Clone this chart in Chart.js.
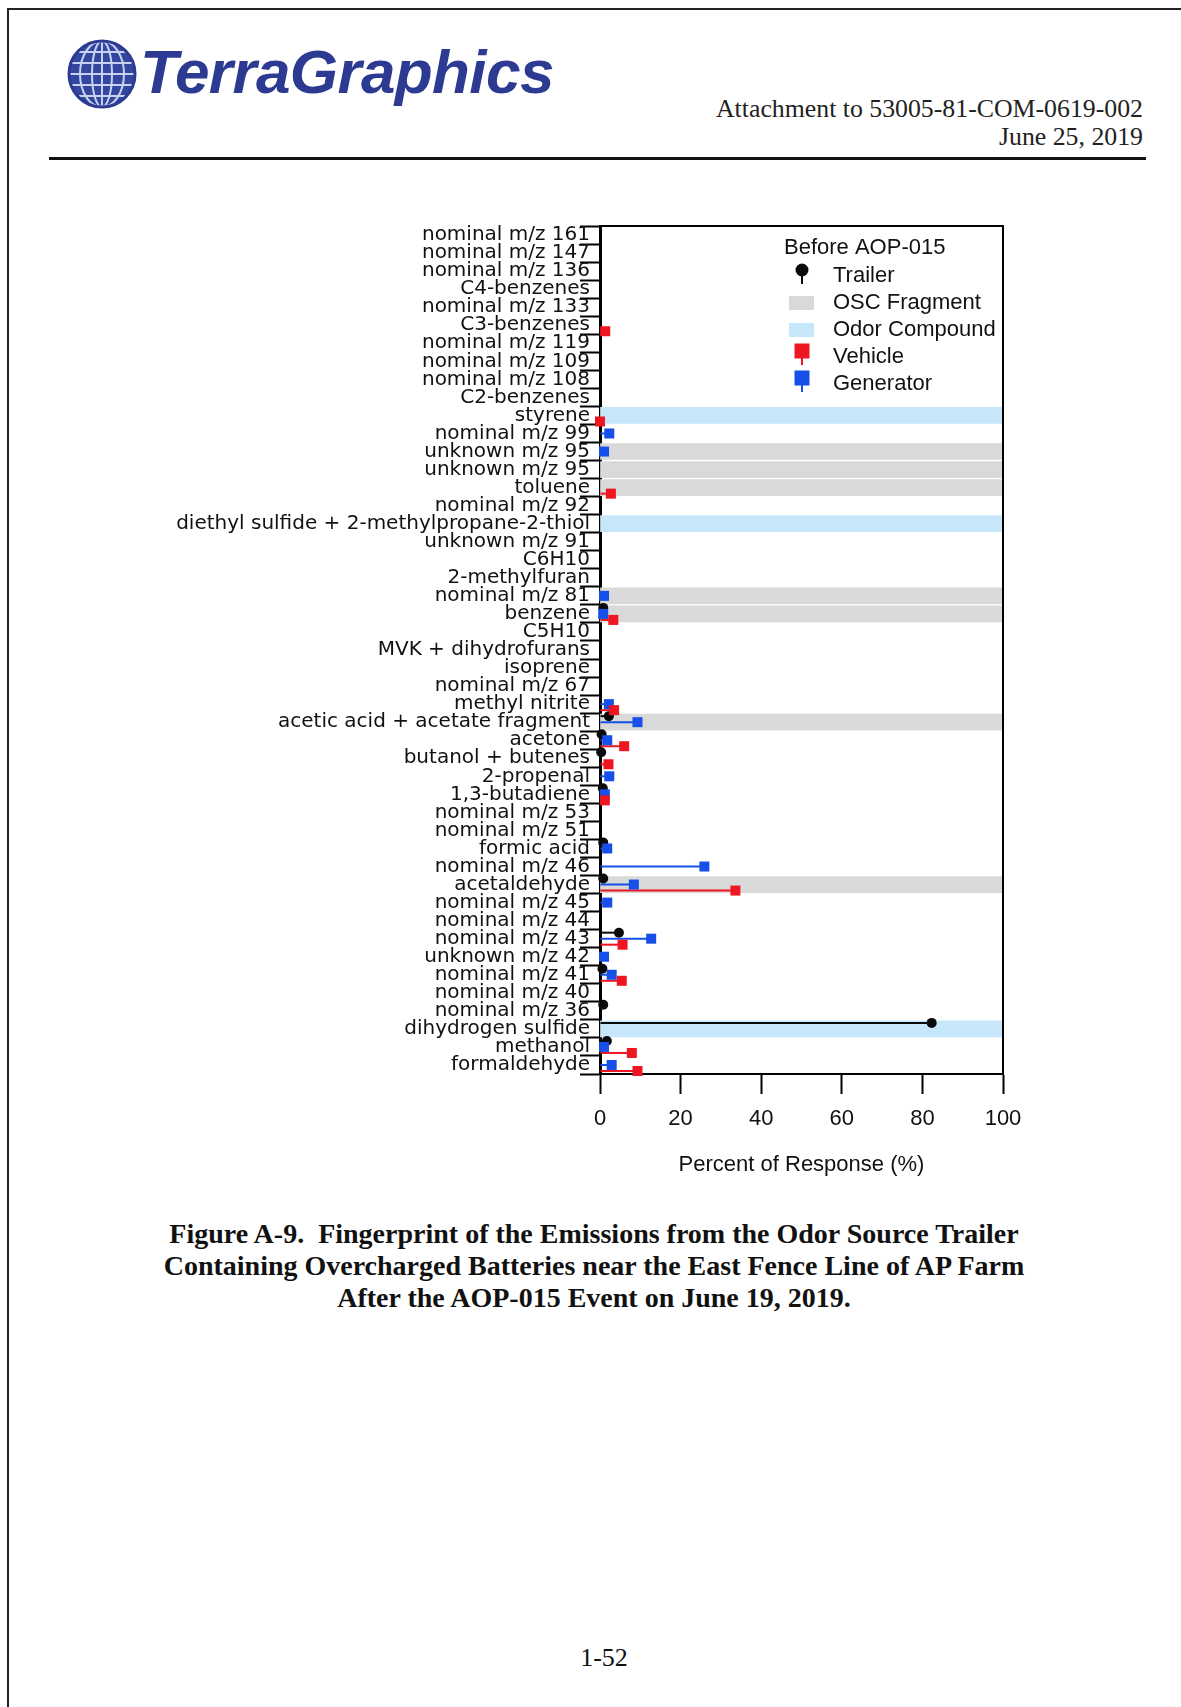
<!DOCTYPE html>
<html>
<head>
<meta charset="utf-8">
<script src="https://cdn.jsdelivr.net/npm/chart.js@4/dist/chart.umd.min.js"></script>
<style>
  html, body { margin: 0; padding: 0; background: #fff; }
  body { width: 1181px; height: 1707px; position: relative; overflow: hidden; }
  .frame { position: absolute; left: 7px; top: 8px; width: 1300px; height: 1800px;
           border-left: 2px solid #222; border-top: 2px solid #222; }
  .logo { position: absolute; left: 66px; top: 38px; }
  .brand { position: absolute; left: 140px; top: 32px; font-family: "Liberation Sans", Arial, sans-serif;
           font-weight: bold; font-style: italic; font-size: 62px; letter-spacing: -0.6px; color: #2c3a92; line-height: 80px; }
  .meta { position: absolute; right: 38px; top: 95px; text-align: right; font-family: "Liberation Serif", "Times New Roman", serif;
          font-size: 25.8px; line-height: 28px; color: #222; }
  .rule { position: absolute; left: 49px; top: 157px; width: 1097px; height: 3px; background: #111; }
  #chart { position: absolute; left: 150px; top: 200px; }
  .caption { position: absolute; left: 0; width: 1188px; top: 1218px; text-align: center;
             font-family: "Liberation Serif", "Times New Roman", serif; font-weight: bold; font-size: 28px; line-height: 32px; color: #111; }
  .pageno { position: absolute; left: 0; width: 1208px; top: 1642px; text-align: center;
            font-family: "Liberation Serif", "Times New Roman", serif; font-size: 26px; line-height: 32px; color: #111; }
</style>
</head>
<body>
<div class="frame"></div>
<svg class="logo" width="72" height="72" viewBox="0 0 72 72">
  <defs><clipPath id="g"><circle cx="36" cy="36" r="33"/></clipPath></defs>
  <circle cx="36" cy="36" r="33" fill="#3447a0"/>
  <g clip-path="url(#g)" fill="none" stroke="#c9d1f0" stroke-width="2">
    <ellipse cx="36" cy="36" rx="10" ry="33"/>
    <ellipse cx="36" cy="36" rx="22" ry="33"/>
    <line x1="36" y1="0" x2="36" y2="72"/>
    <line x1="0" y1="14" x2="72" y2="14"/>
    <line x1="0" y1="25" x2="72" y2="25"/>
    <line x1="0" y1="36" x2="72" y2="36"/>
    <line x1="0" y1="47" x2="72" y2="47"/>
    <line x1="0" y1="58" x2="72" y2="58"/>
  </g>
  <circle cx="36" cy="36" r="33" fill="none" stroke="#2c3a92" stroke-width="3"/>
</svg>
<div class="brand">TerraGraphics</div>
<div class="meta">Attachment to 53005-81-COM-0619-002<br>June 25, 2019</div>
<div class="rule"></div>
<canvas id="chart" width="890" height="1000"></canvas>
<div class="caption">Figure A-9.&nbsp; Fingerprint of the Emissions from the Odor Source Trailer<br>Containing Overcharged Batteries near the East Fence Line of AP Farm<br>After the AOP-015 Event on June 19, 2019.</div>
<div class="pageno">1-52</div>

<script>
// Compounds, listed top to bottom
const categories = [
  "nominal m/z 161", "nominal m/z 147", "nominal m/z 136", "C4-benzenes", "nominal m/z 133",
  "C3-benzenes", "nominal m/z 119", "nominal m/z 109", "nominal m/z 108", "C2-benzenes",
  "styrene", "nominal m/z 99", "unknown m/z 95", "unknown m/z 95", "toluene",
  "nominal m/z 92", "diethyl sulfide + 2-methylpropane-2-thiol", "unknown m/z 91", "C6H10", "2-methylfuran",
  "nominal m/z 81", "benzene", "C5H10", "MVK + dihydrofurans", "isoprene",
  "nominal m/z 67", "methyl nitrite", "acetic acid + acetate fragment", "acetone", "butanol + butenes",
  "2-propenal", "1,3-butadiene", "nominal m/z 53", "nominal m/z 51", "formic acid",
  "nominal m/z 46", "acetaldehyde", "nominal m/z 45", "nominal m/z 44", "nominal m/z 43",
  "unknown m/z 42", "nominal m/z 41", "nominal m/z 40", "nominal m/z 36", "dihydrogen sulfide",
  "methanol", "formaldehyde"
];

// Percent of response per source (null = not detected)
const trailer = [
  null, null, null, null, null,  null, null, null, null, null,
  null, null, null, null, null,  null, null, null, null, null,
  null, 0.8, null, null, null,   null, null, 2.2, 0.4, 0.3,
  null, 0.7, null, null, 0.8,    null, 0.8, null, null, 4.7,
  null, 0.6, null, 0.8, 82.3,    1.7, null
];
const generator = [
  null, null, null, null, null,  null, null, null, null, null,
  null, 2.3, 1.0, null, null,    null, null, null, null, null,
  1.0, 0.8, null, null, null,    null, 2.2, 9.3, 1.8, null,
  2.3, 1.2, null, null, 1.8,     25.9, 8.4, 1.8, null, 12.7,
  1.0, 2.9, null, null, null,    1.0, 2.9
];
const vehicle = [
  null, null, null, null, null,  1.3, null, null, null, null,
  0.0, null, null, null, 2.7,    null, null, null, null, null,
  null, 3.3, null, null, null,   null, 3.5, null, 6.0, 2.1,
  null, 1.2, null, null, null,   null, 33.6, null, null, 5.6,
  null, 5.4, null, null, null,   7.9, 9.3
];

// Rows flagged as OSC fragments / odor compounds (drawn as full-scale bands)
const oscFragmentRows = [13, 14, 15, 21, 22, 28, 37];   // 1-based row numbers
const odorCompoundRows = [11, 17, 45];
const fullScale = 100;

const xTicks = [0, 20, 40, 60, 80, 100];

const COLORS = {
  trailer: '#0a0a0a',
  vehicle: '#ee1620',
  generator: '#1650e8',
  osc: '#d9d9d9',
  odor: '#c6e7fa'
};

const bandData = rows => categories.map((_, i) => rows.includes(i + 1) ? fullScale : null);

const stem = (label, data, color, marker) => ({
  type: 'bar', label, data, marker,
  backgroundColor: color, borderWidth: 0,
  categoryPercentage: 1.0, barPercentage: 0.34, maxBarThickness: 2, grouped: true
});
const band = (label, data, color) => ({
  type: 'bar', label, data, band: true,
  backgroundColor: color, borderWidth: 0, grouped: false, barThickness: 16
});

// Marker heads for the lollipop stems, plus the chart frame and legend
const lollipopPlugin = {
  id: 'lollipop',
  afterDatasetsDraw(chart) {
    const ctx = chart.ctx;
    const a = chart.chartArea;
    // top and right frame
    ctx.save();
    ctx.strokeStyle = '#000';
    ctx.lineWidth = 2;
    ctx.beginPath();
    ctx.moveTo(a.left, a.top);
    ctx.lineTo(a.right, a.top);
    ctx.lineTo(a.right, a.bottom);
    ctx.stroke();
    ctx.restore();

    chart.data.datasets.forEach((ds, di) => {
      if (!ds.marker) return;
      const meta = chart.getDatasetMeta(di);
      meta.data.forEach((el, i) => {
        if (ds.data[i] === null || ds.data[i] === undefined) return;
        ctx.save();
        ctx.fillStyle = ds.backgroundColor;
        if (ds.marker === 'circle') {
          ctx.beginPath();
          ctx.arc(el.x, el.y, 5, 0, Math.PI * 2);
          ctx.fill();
        } else {
          ctx.fillRect(el.x - 5, el.y - 5, 10, 10);
        }
        ctx.restore();
      });
    });
  },
  afterDraw(chart) {
    const ctx = chart.ctx;
    const a = chart.chartArea;
    const x0 = a.left + 184, sx = a.left + 202, tx = a.left + 233;
    ctx.save();
    ctx.font = '22px "Liberation Sans", Arial, sans-serif';
    ctx.fillStyle = '#111';
    ctx.textBaseline = 'middle';
    ctx.fillText('Before AOP-015', x0, a.top + 22);
    const items = [
      { label: 'Trailer', kind: 'circle', color: COLORS.trailer },
      { label: 'OSC Fragment', kind: 'rect', color: COLORS.osc },
      { label: 'Odor Compound', kind: 'rect', color: COLORS.odor },
      { label: 'Vehicle', kind: 'square', color: COLORS.vehicle },
      { label: 'Generator', kind: 'square', color: COLORS.generator }
    ];
    items.forEach((it, k) => {
      const cy = a.top + 50 + k * 27;
      ctx.fillStyle = it.color;
      if (it.kind === 'rect') {
        ctx.fillRect(sx - 13, cy - 7, 25, 14);
      } else {
        ctx.fillRect(sx - 1, cy - 6, 2, 14);
        if (it.kind === 'circle') {
          ctx.beginPath();
          ctx.arc(sx, cy - 6, 6.5, 0, Math.PI * 2);
          ctx.fill();
        } else {
          ctx.fillRect(sx - 7.5, cy - 13.5, 15, 15);
        }
      }
      ctx.fillStyle = '#111';
      ctx.fillText(it.label, tx, cy);
    });
    ctx.restore();
  }
};

new Chart(document.getElementById('chart'), {
  type: 'bar',
  data: {
    labels: categories,
    datasets: [
      stem('Trailer', trailer, COLORS.trailer, 'circle'),
      stem('Generator', generator, COLORS.generator, 'square'),
      stem('Vehicle', vehicle, COLORS.vehicle, 'square'),
      band('OSC Fragment', bandData(oscFragmentRows), COLORS.osc),
      band('Odor Compound', bandData(odorCompoundRows), COLORS.odor)
    ]
  },
  options: {
    indexAxis: 'y',
    responsive: false,
    animation: false,
    devicePixelRatio: 1,
    layout: { padding: { top: 26, right: 37, left: 0, bottom: 0 } },
    plugins: { legend: { display: false }, tooltip: { enabled: false } },
    scales: {
      x: {
        type: 'linear', min: 0, max: 100,
        afterBuildTicks: s => { s.ticks = xTicks.map(v => ({ value: v })); },
        afterFit: s => { s.height = 126; },
        grid: { drawOnChartArea: false, tickLength: 20, tickWidth: 2, tickColor: '#000' },
        border: { display: true, color: '#000', width: 2 },
        ticks: { padding: 12, color: '#111', font: { family: '"Liberation Sans", Arial, sans-serif', size: 22 } },
        title: { display: true, text: 'Percent of Response (%)', color: '#111',
                 font: { family: '"Liberation Sans", Arial, sans-serif', size: 22 }, padding: { top: 4, bottom: 22 } }
      },
      y: {
        type: 'category',
        afterFit: s => { s.width = 450; },
        grid: { drawOnChartArea: false, offset: true, tickLength: 20, tickWidth: 2, tickColor: '#000' },
        border: { display: true, color: '#000', width: 3 },
        ticks: { autoSkip: false, padding: -10, color: '#111',
                 font: { family: '"DejaVu Sans", sans-serif', size: 20 } }
      }
    }
  },
  plugins: [lollipopPlugin]
});
</script>
</body>
</html>
